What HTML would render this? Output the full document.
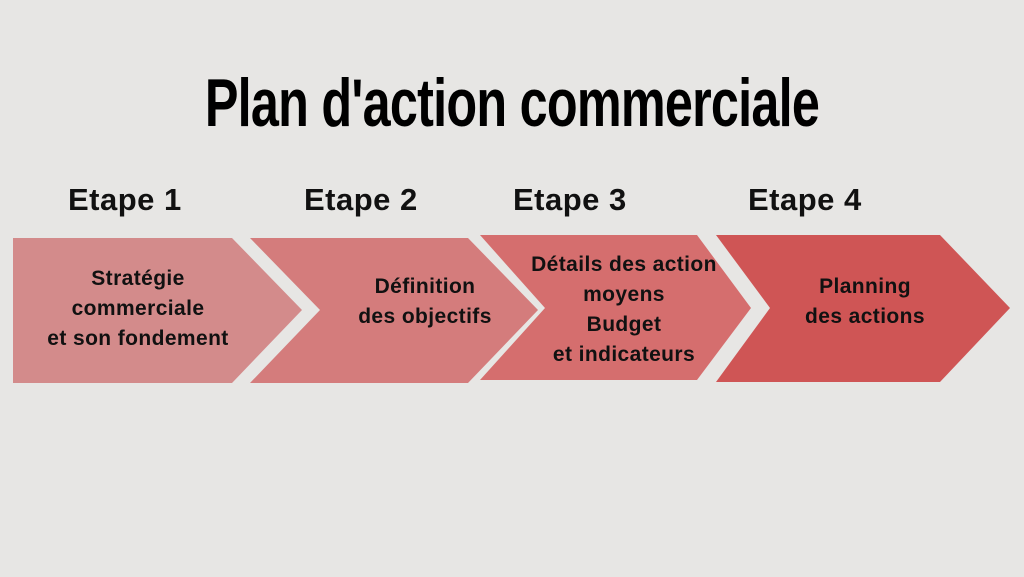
<!DOCTYPE html>
<html><head><meta charset="utf-8"><style>
body{margin:0;width:1024px;height:577px;background:#e7e6e4;overflow:hidden;position:relative;font-family:"Liberation Sans","DejaVu Sans",sans-serif}
.t{position:absolute;left:0;width:1024px;top:64px;text-align:center;font-family:"Liberation Sans",sans-serif;font-weight:bold;font-size:68px;color:#000;letter-spacing:-1px;transform:scaleX(0.74)}
.e{position:absolute;top:182px;font-weight:bold;font-size:31px;color:#111;letter-spacing:0.5px}
.b{position:absolute;font-weight:bold;font-size:21px;color:#111;text-align:center;line-height:30px;width:300px;letter-spacing:0.4px}
</style></head><body>
<div class="t">Plan d'action commerciale</div>
<div class="e" style="left:68px">Etape 1</div>
<div class="e" style="left:304px">Etape 2</div>
<div class="e" style="left:513px">Etape 3</div>
<div class="e" style="left:748px">Etape 4</div>
<svg width="1024" height="577" style="position:absolute;left:0;top:0">
<polygon points="13,238 232,238 302,310 232,383 13,383" fill="#d38b8b"/>
<polygon points="250,238 468,238 538,310 468,383 250,383 320,310" fill="#d47c7c"/>
<polygon points="480,235 697,235 751,308 697,380 480,380 545,308" fill="#d56e6e"/>
<polygon points="716,235 940,235 1010,308 940,382 716,382 770,308" fill="#cf5555"/>
</svg>
<div class="b" style="left:-12px;top:264px">Stratégie<br>commerciale<br>et son fondement</div>
<div class="b" style="left:275px;top:272px">Définition<br>des objectifs</div>
<div class="b" style="left:474px;top:250px">Détails des action<br>moyens<br>Budget<br>et indicateurs</div>
<div class="b" style="left:715px;top:272px">Planning<br>des actions</div>
</body></html>
